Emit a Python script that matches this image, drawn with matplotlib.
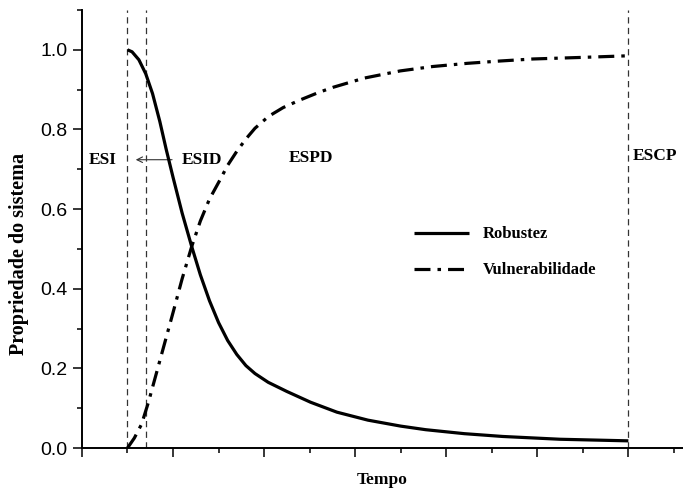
import numpy as np
import matplotlib
matplotlib.use("Agg")
from matplotlib import pyplot as plt
from matplotlib.ticker import MultipleLocator

## curves (x in tick units, y = propriedade)
rob_x = [1.0, 1.1, 1.25, 1.4, 1.55, 1.71, 1.85, 2.0, 2.2, 2.41, 2.6, 2.8,
         3.0, 3.2, 3.4, 3.6, 3.8, 4.09, 4.5, 5.02, 5.6, 6.28, 7.0, 7.55,
         8.4, 9.24, 10.5, 12.0]
rob_y = [1.0, 0.995, 0.975, 0.94, 0.89, 0.82, 0.75, 0.68, 0.59, 0.506,
         0.435, 0.37, 0.315, 0.27, 0.235, 0.207, 0.187, 0.165, 0.142, 0.115,
         0.090, 0.070, 0.055, 0.046, 0.036, 0.029, 0.022, 0.018]

vul_x = [1.0, 1.15, 1.31, 1.46, 1.64, 1.82, 2.0, 2.2, 2.41, 2.6, 2.8, 3.03,
         3.2, 3.4, 3.6, 3.8, 4.1, 4.42, 4.79, 5.2, 5.52, 6.2, 6.99, 7.7, 8.46,
         9.2, 9.91, 11.0, 12.0]
vul_y = [0.0, 0.025, 0.06, 0.115, 0.19, 0.265, 0.34, 0.425, 0.506, 0.57,
         0.625, 0.673, 0.71, 0.745, 0.776, 0.803, 0.833, 0.855, 0.874, 0.893,
         0.906, 0.929, 0.947, 0.958, 0.966, 0.972, 0.977, 0.981, 0.985]

fases = [1.0, 1.41, 12.0]   # ESI, ESID, ESCP limits
serif = ['Liberation Serif', 'DejaVu Serif']

fig = plt.figure(figsize=(6.83, 4.92), dpi=100)
ax = fig.add_axes([0.12, 0.0894, 0.88, 0.8903])

ax.plot(rob_x, rob_y, color='k', linewidth=2.3, solid_capstyle='butt',
        solid_joinstyle='round', label='Robustez', zorder=5)
ax.plot(vul_x, vul_y, color='k', linewidth=2.3, linestyle=(0, (5, 2.2, 1.1, 2.2)),
        label='Vulnerabilidade', zorder=5)

for xf in fases:
    ax.axvline(xf, color='#333333', linewidth=0.9, linestyle=(0, (5, 3.5)), zorder=2)

bold = dict(family=serif, fontweight='bold', fontsize=12.5)
ax.text(0.46, 0.724, 'ESI', ha='center', va='center', **bold)
ax.text(2.63, 0.724, 'ESID', ha='center', va='center', **bold)
ax.text(5.04, 0.729, 'ESPD', ha='center', va='center', **bold)
ax.text(12.09, 0.733, 'ESCP', ha='left', va='center', **bold)
ax.annotate('', xy=(1.12, 0.724), xytext=(2.04, 0.724),
            arrowprops=dict(arrowstyle='->', color='#333333', lw=0.8))

ax.set_xlim(0, 13.2)
ax.set_ylim(0, 1.1)
ax.xaxis.set_major_locator(MultipleLocator(2))
ax.xaxis.set_minor_locator(MultipleLocator(1))
ax.yaxis.set_minor_locator(MultipleLocator(0.1))
ax.set_xticklabels([])
ax.set_yticks(np.arange(0, 1.01, 0.2))
ax.set_yticklabels(['0.0', '0.2', '0.4', '0.6', '0.8', '1.0'],
                   family=['Liberation Sans', 'DejaVu Sans'], fontsize=14)
ax.tick_params(which='major', direction='out', length=6.5, width=1.1, pad=4)
ax.tick_params(which='minor', direction='out', length=3.5, width=1.1)
ax.spines['top'].set_visible(False)
ax.spines['right'].set_visible(False)
ax.spines['left'].set_linewidth(1.4)
ax.spines['bottom'].set_linewidth(1.4)

ax.set_xlabel('Tempo', family=serif, fontweight='bold', fontsize=12.5, labelpad=7)
ax.set_ylabel('Propriedade do sistema', family=serif, fontweight='bold', fontsize=14.5)
ax.yaxis.set_label_coords(-0.088, 0.443)

leg = ax.legend(loc='upper left', bbox_to_anchor=(0.528, 0.54), frameon=False,
                handlelength=3.3, handletextpad=0.8, labelspacing=1.2,
                prop=dict(family=serif, weight='bold', size=12))

fig.savefig('out.png', dpi=100)
